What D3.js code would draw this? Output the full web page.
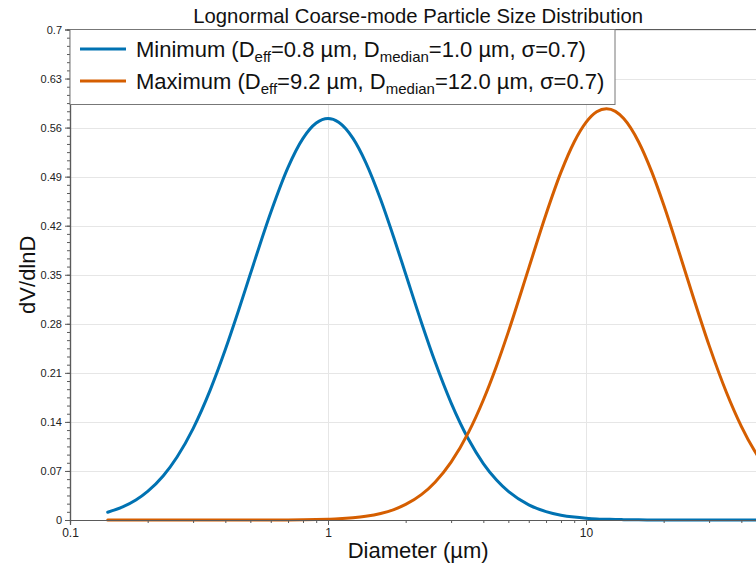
<!DOCTYPE html>
<html>
<head>
<meta charset="utf-8">
<script src="https://cdn.jsdelivr.net/npm/d3@7"></script>
<style>
  html, body { margin: 0; padding: 0; background: #fff; overflow: hidden; }
  svg { display: block; font-family: "Liberation Sans", Arial, sans-serif; }
</style>
</head>
<body>
<svg id="chart" width="756" height="570"></svg>
<script>
// ---- data ----
const diameters = [0.14, 0.16, 0.18, 0.2, 0.23, 0.26, 0.3, 0.35, 0.4, 0.45, 0.5, 0.6, 0.7, 0.8, 0.9,
  1.0, 1.1, 1.25, 1.4, 1.6, 1.8, 2.0, 2.3, 2.6, 3.0, 3.5, 4.0, 4.5, 5, 6, 7, 8, 9,
  10, 11, 12, 13, 14, 16, 18, 20, 23, 26, 30, 35, 40, 45, 50];
const minimumSeries = [0.0111, 0.0186, 0.0285, 0.0408, 0.0632, 0.0899, 0.1305, 0.1861, 0.2432, 0.2989, 0.3510, 0.4390, 0.5033, 0.5446, 0.5665,
  0.5730, 0.5677, 0.5446, 0.5105, 0.4574, 0.4028, 0.3510, 0.2823, 0.2257, 0.1672, 0.1155, 0.0806, 0.0570, 0.0408, 0.0216, 0.0120, 0.0069, 0.0042,
  0.0026, 0.0016, 0.0011, 0.0007, 0.0005, 0.0002, 0.0001, 0, 0, 0, 0, 0, 0, 0, 0];
const maximumSeries = [0, 0, 0, 0, 0, 0, 0, 0, 0, 0, 0, 0.0001, 0.0001, 0.0003, 0.0006,
  0.0011, 0.0017, 0.0032, 0.0053, 0.0093, 0.0149, 0.0222, 0.0362, 0.0540, 0.0826, 0.1247, 0.1713, 0.2199, 0.2685, 0.3595, 0.4364, 0.4964, 0.5395,
  0.5674, 0.5825, 0.5870, 0.5832, 0.5729, 0.5395, 0.4964, 0.4498, 0.3811, 0.3190, 0.2492, 0.1823, 0.1337, 0.0987, 0.0735];
const seriesNames = ["Minimum", "Maximum"];
const seriesParams = [
  { eff: "0.8", median: "1.0", sigma: "0.7" },
  { eff: "9.2", median: "12.0", sigma: "0.7" }
];
const seriesColors = ["#0072B2", "#D55E00"];
const yTickValues = [0, 0.07, 0.14, 0.21, 0.28, 0.35, 0.42, 0.49, 0.56, 0.63, 0.7];
const yTickLabels = ["0", "0.07", "0.14", "0.21", "0.28", "0.35", "0.42", "0.49", "0.56", "0.63", "0.7"];
const xTickValues = [0.1, 1, 10];
const xTickLabels = ["0.1", "1", "10"];
const titleText = "Lognormal Coarse-mode Particle Size Distribution";
const xLabel = "Diameter (µm)";
const yLabel = "dV/dlnD";

// ---- layout ----
const plotLeft = 70, plotTop = 29.5, plotBottom = 520;
const decade = 258;
const xDomain = [0.1, 50];
const plotRight = plotLeft + decade * Math.log10(xDomain[1] / xDomain[0]);

const svg = d3.select("#chart");
const x = d3.scaleLog().domain(xDomain).range([plotLeft, plotRight]);
const y = d3.scaleLinear().domain([0, 0.7]).range([plotBottom, plotTop]);

const axisColor = "#5a5a5a";
const gridColor = "#e6e6e6";

// gridlines
const grid = svg.append("g");
grid.selectAll("line.hg").data(yTickValues.slice(1)).join("line")
  .attr("x1", plotLeft).attr("x2", plotRight)
  .attr("y1", d => Math.round(y(d)) + 0.5).attr("y2", d => Math.round(y(d)) + 0.5)
  .attr("stroke", gridColor).attr("stroke-width", 1);
grid.selectAll("line.vg").data(xTickValues.slice(1)).join("line")
  .attr("x1", d => Math.round(x(d)) + 0.5).attr("x2", d => Math.round(x(d)) + 0.5)
  .attr("y1", plotTop).attr("y2", plotBottom)
  .attr("stroke", gridColor).attr("stroke-width", 1);

// curves
const line = d3.line()
  .x((d, i) => x(diameters[i]))
  .y(d => y(d))
  .curve(d3.curveMonotoneX);
[minimumSeries, maximumSeries].forEach((s, k) => {
  svg.append("path").datum(s)
    .attr("d", line)
    .attr("fill", "none")
    .attr("stroke", seriesColors[k])
    .attr("stroke-width", 3)
    .attr("stroke-linecap", "round");
});

// y axis
const yMinor = d3.range(0, 0.7 + 1e-9, 0.07 / 6);
const yAxis = d3.axisLeft(y).tickValues(yTickValues)
  .tickFormat((d, i) => yTickLabels[i]).tickSize(5).tickPadding(3);
const yMinorAxis = d3.axisLeft(y).tickValues(yMinor).tickFormat("").tickSize(3);
const gyMinor = svg.append("g").attr("transform", `translate(${plotLeft},0)`).call(yMinorAxis);
const gy = svg.append("g").attr("transform", `translate(${plotLeft},0)`).call(yAxis);

// x axis
const xMinor = [];
[0.1, 1, 10].forEach(b => { for (let m = 2; m <= 9; m++) if (b * m <= xDomain[1]) xMinor.push(b * m); });
const xAxis = d3.axisBottom(x).tickValues(xTickValues)
  .tickFormat((d, i) => xTickLabels[i]).tickSize(5).tickPadding(3);
const xMinorAxis = d3.axisBottom(x).tickValues(xMinor).tickFormat("").tickSize(3);
const gxMinor = svg.append("g").attr("transform", `translate(0,${plotBottom})`).call(xMinorAxis);
const gx = svg.append("g").attr("transform", `translate(0,${plotBottom})`).call(xAxis);

[gy, gyMinor, gx, gxMinor].forEach(g => {
  g.selectAll("path.domain").attr("stroke", axisColor).attr("stroke-width", 1.2);
  g.selectAll(".tick line").attr("stroke", axisColor);
  g.selectAll("text").attr("fill", "#222").attr("font-size", 11)
    .attr("font-family", "'Liberation Sans', Arial, sans-serif");
});
gx.selectAll("text").attr("font-size", 12);

// top frame line
svg.append("line").attr("x1", plotLeft).attr("x2", plotRight)
  .attr("y1", plotTop).attr("y2", plotTop)
  .attr("stroke", axisColor).attr("stroke-width", 1.2);

// legend
const lg = svg.append("g");
lg.append("rect").attr("x", plotLeft).attr("y", plotTop).attr("width", 545).attr("height", 75)
  .attr("fill", "#fff").attr("stroke", "#777").attr("stroke-width", 1);
seriesNames.forEach((name, k) => {
  const ly = 49 + k * 32;
  lg.append("line").attr("x1", 80).attr("x2", 126).attr("y1", ly).attr("y2", ly)
    .attr("stroke", seriesColors[k]).attr("stroke-width", 3);
  const p = seriesParams[k];
  const t = lg.append("text").attr("x", 136).attr("y", ly + 8)
    .attr("font-size", 22).attr("fill", "#111");
  t.append("tspan").text(`${name} (D`);
  t.append("tspan").attr("font-size", 15).attr("dy", 5).text("eff");
  t.append("tspan").attr("dy", -5).text(`=${p.eff} µm, D`);
  t.append("tspan").attr("font-size", 15).attr("dy", 5).text("median");
  t.append("tspan").attr("dy", -5).text(`=${p.median} µm, σ=${p.sigma})`);
});

// title and labels
const cx = (plotLeft + plotRight) / 2;
svg.append("text").attr("x", cx).attr("y", 23).attr("text-anchor", "middle")
  .attr("font-size", 20.3).attr("fill", "#111").text(titleText);
svg.append("text").attr("x", cx).attr("y", 558).attr("text-anchor", "middle")
  .attr("font-size", 22).attr("fill", "#111").text(xLabel);
svg.append("text").attr("transform", `translate(35,${(plotTop + plotBottom) / 2}) rotate(-90)`)
  .attr("text-anchor", "middle").attr("font-size", 22).attr("fill", "#111").text(yLabel);
</script>
</body>
</html>
